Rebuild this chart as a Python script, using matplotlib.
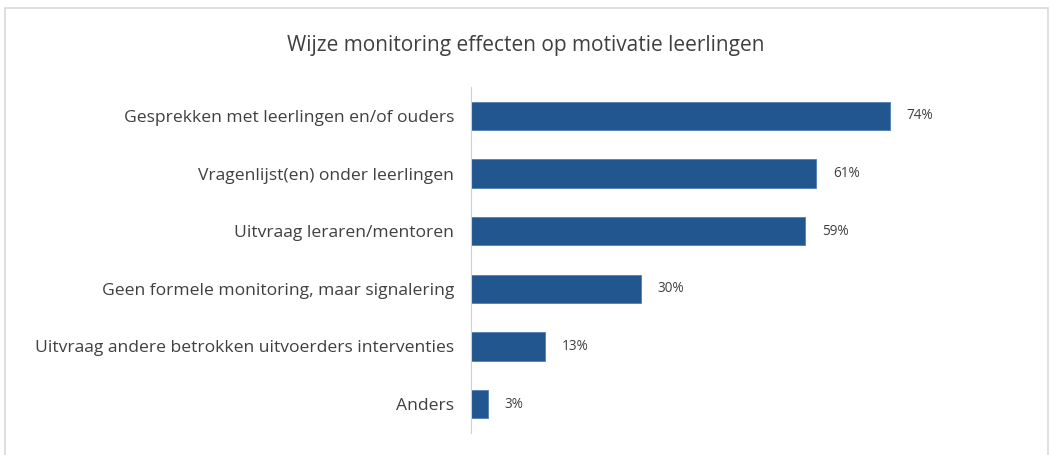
import matplotlib.pyplot as plt
from matplotlib.patches import Rectangle

categories = [
    'Gesprekken met leerlingen en/of ouders',
    'Vragenlijst(en) onder leerlingen',
    'Uitvraag leraren/mentoren',
    'Geen formele monitoring, maar signalering',
    'Uitvraag andere betrokken uitvoerders interventies',
    'Anders',
]
values = [0.74, 0.61, 0.59, 0.30, 0.13, 0.03]
labels = ['74%', '61%', '59%', '30%', '13%', '3%']

plt.rcParams['font.family'] = ['Open Sans', 'DejaVu Sans']

fig = plt.figure(figsize=(10.51, 4.55), dpi=100)
fig.patches.append(Rectangle((5/1051, -0.1), 1043/1051, 1.1 - 8/455, transform=fig.transFigure,
                             fill=False, edgecolor='#d9d9d9', linewidth=1.2))

ax = fig.add_axes([471/1051, 22/455, 509/1051, 346/455])
y = list(range(len(categories)))
ax.barh(y, values, height=0.49, color='#22568F', edgecolor='#4f7fb5', linewidth=0.6)
for yi, v, lab in zip(y, values, labels):
    ax.text(v + 0.03, yi, lab, va='center', ha='left', fontsize=9.8, color='#404040')

ax.set_xlim(0, 0.9)
ax.set_ylim(len(categories) - 0.5, -0.5)
ax.set_yticks(y)
ax.set_yticklabels(categories, fontsize=12.6, color='#404040')
ax.tick_params(axis='y', length=0, pad=12)
ax.set_xticks([])
for s in ['top', 'right', 'bottom']:
    ax.spines[s].set_visible(False)
ax.spines['left'].set_color('#d0d0d0')

fig.text(0.5, 1 - 46/455, 'Wijze monitoring effecten op motivatie leerlingen',
         ha='center', va='center', fontsize=15, color='#404040')

fig.savefig('out.png', dpi=100)
